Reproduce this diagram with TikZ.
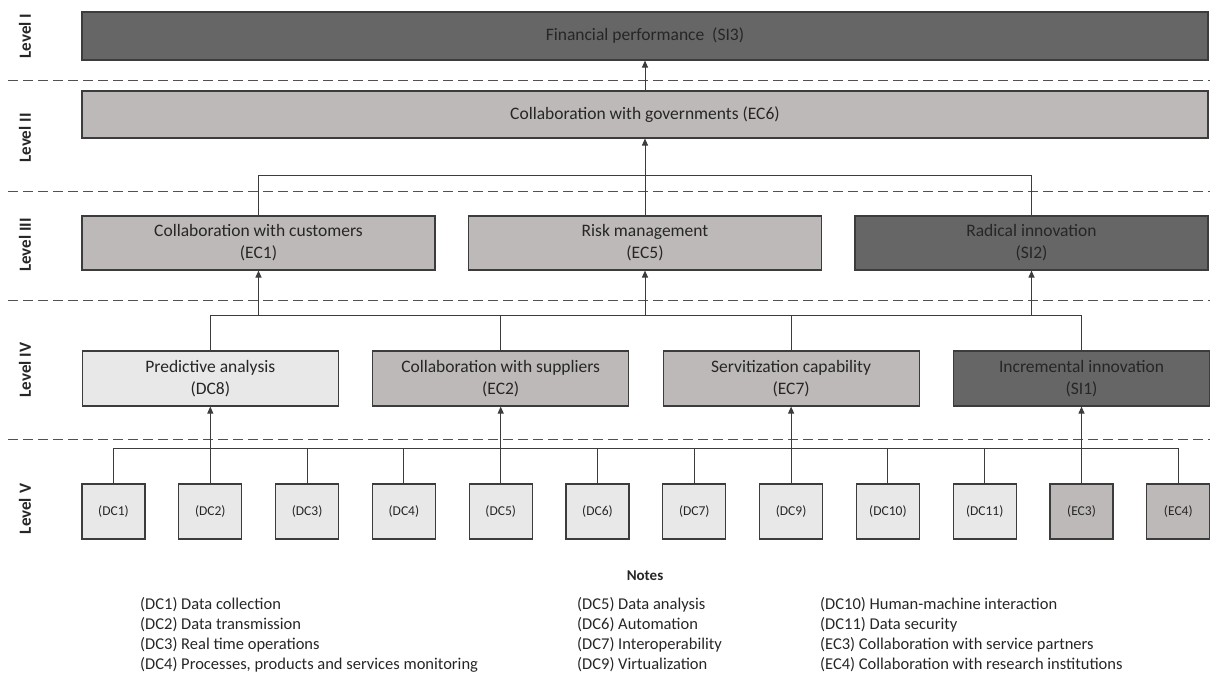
\documentclass[tikz,border=0pt]{standalone}
\usepackage{fontspec}
\setmainfont{Carlito}
\usetikzlibrary{arrows.meta}

\definecolor{darkfill}{RGB}{102,102,102}
\definecolor{midfill}{RGB}{190,185,185}
\definecolor{lightfill}{RGB}{232,232,232}
\definecolor{inkgray}{RGB}{38,38,38}

\begin{document}
\begin{tikzpicture}[
  x=1pt, y=-1pt,
  >={Triangle[length=7pt,width=6pt]},
  box/.style={draw=inkgray!90,line width=1.1pt,text=inkgray,align=center,
    inner sep=0pt,font=\fontsize{17.5}{22}\selectfont},
  darkbox/.style={box,fill=darkfill},
  midbox/.style={box,fill=midfill},
  lightbox/.style={box,fill=lightfill},
  widebox/.style={minimum width=1126pt,minimum height=48pt},
  threebox/.style={minimum width=353pt,minimum height=54pt},
  fourbox/.style={minimum width=256pt,minimum height=55pt},
  sqbox/.style={box,minimum width=63pt,minimum height=55pt,
    font=\fontsize{13.5}{16}\selectfont},
  link/.style={draw=inkgray!90,line width=1pt},
  uplink/.style={link,->},
  levelsep/.style={draw=inkgray!80,line width=1pt,dash pattern=on 10pt off 5pt},
  levellabel/.style={rotate=90,text=inkgray,font=\fontsize{17}{20}\bfseries},
  notes/.style={text=inkgray,align=left,inner sep=0pt,anchor=north west,
    font=\fontsize{16.5}{20}\selectfont}
]
\useasboundingbox (0,0) rectangle (1210,678);

%--------------------
% level separators
%--------------------
\foreach \y in {80,191.5,300.5,439}
  \draw[levelsep] (8,\y) -- (1210,\y);

\node[levellabel] (lv1) at (25,36) {Level I};
\node[levellabel] (lv2) at (25,138) {Level II};
\node[levellabel] (lv3) at (25,245) {Level III};
\node[levellabel] (lv4) at (25,370) {Level IV};
\node[levellabel] (lv5) at (25,509) {Level V};

%--------------------
% Level I and II
%--------------------
\node[darkbox,widebox] (SI3) at (645,36) {Financial performance\ \ (SI3)};
\node[midbox,widebox,minimum height=47pt] (EC6) at (645,114.5)
  {Collaboration with governments (EC6)};

%--------------------
% Level III
%--------------------
\node[midbox,threebox] (EC1) at (258.5,243) {Collaboration with customers\\(EC1)};
\node[midbox,threebox] (EC5) at (645,243) {Risk management\\(EC5)};
\node[darkbox,threebox] (SI2) at (1031.5,243) {Radical innovation\\(SI2)};

%--------------------
% Level V
%--------------------
\foreach \lab/\fc [count=\i from 0] in {DC1/lightfill,DC2/lightfill,
    DC3/lightfill,DC4/lightfill,DC5/lightfill,DC6/lightfill,DC7/lightfill,
    DC9/lightfill,DC10/lightfill,DC11/lightfill,EC3/midfill,EC4/midfill}
  \node[sqbox,fill=\fc] (\lab) at (113.5+96.8*\i,511.5) {(\lab)};

%--------------------
% Level IV (above the feeding boxes)
%--------------------
\node[lightbox,fourbox] (DC8) at (DC2 |- 0,378.5) {Predictive analysis\\(DC8)};
\node[midbox,fourbox] (EC2) at (DC5 |- 0,378.5) {Collaboration with suppliers\\(EC2)};
\node[midbox,fourbox] (EC7) at (DC9 |- 0,378.5) {Servitization capability\\(EC7)};
\node[darkbox,fourbox] (SI1) at (EC3 |- 0,378.5) {Incremental innovation\\(SI1)};

% bus lines
\coordinate (bus3) at (0,175);
\coordinate (bus4) at (0,315);
\coordinate (bus5) at (0,448);

% Level V -> Level IV
\draw[link] (DC1.north |- bus5) -- (EC4.north |- bus5);
\foreach \lab in {DC1,DC3,DC4,DC6,DC7,DC10,DC11,EC4}
  \draw[link] (\lab.north) -- (\lab.north |- bus5);
\draw[uplink] (DC2.north) -- (DC8.south);
\draw[uplink] (DC5.north) -- (EC2.south);
\draw[uplink] (DC9.north) -- (EC7.south);
\draw[uplink] (EC3.north) -- (SI1.south);

% Level IV -> Level III
\draw[link] (DC8.north |- bus4) -- (SI1.north |- bus4);
\foreach \lab in {DC8,EC2,EC7,SI1}
  \draw[link] (\lab.north) -- (\lab.north |- bus4);
\draw[uplink] (EC1.south |- bus4) -- (EC1.south);
\draw[uplink] (EC5.south |- bus4) -- (EC5.south);
\draw[uplink] (SI2.south |- bus4) -- (SI2.south);

% Level III -> Level II -> Level I
\draw[link] (EC1.north) |- (SI2.north |- bus3) -- (SI2.north);
\draw[uplink] (EC5.north) -- (EC6.south);
\draw[uplink] (EC6.north) -- (SI3.south);

%--------------------
% notes
%--------------------
\node[text=inkgray,font=\fontsize{15}{18}\bfseries] (notes) at (645,576) {Notes};
\node[notes] (col1) at (140,597) {(DC1) Data collection\\(DC2) Data transmission\\
  (DC3) Real time operations\\(DC4) Processes, products and services monitoring};
\node[notes] (col2) at (577,597) {(DC5) Data analysis\\(DC6) Automation\\
  (DC7) Interoperability\\(DC9) Virtualization};
\node[notes] (col3) at (820,597) {(DC10) Human-machine interaction\\(DC11) Data security\\
  (EC3) Collaboration with service partners\\(EC4) Collaboration with research institutions};

\end{tikzpicture}
\end{document}
